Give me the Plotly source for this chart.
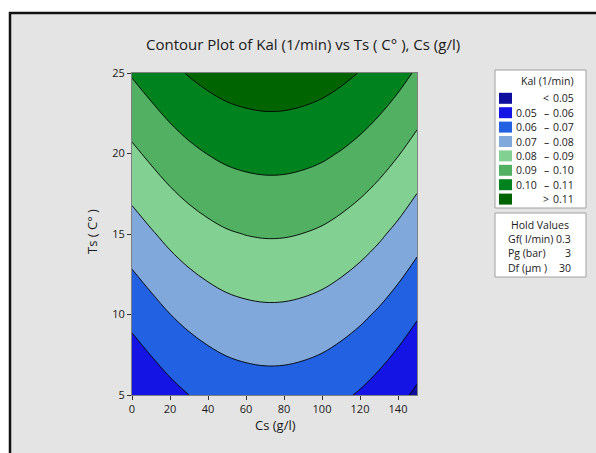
import plotly.graph_objects as go

# ---- data ----
cs_values = [0, 10, 20, 30, 40, 50, 60, 70, 80, 90, 100, 110, 120, 130, 140, 150]
ts_values = [5, 10, 15, 20, 25]
kal_ts5 = [0.0502, 0.0538, 0.0572, 0.0600, 0.0622, 0.0639, 0.0649, 0.0654, 0.0653, 0.0646, 0.0634, 0.0615, 0.0591, 0.0561, 0.0525, 0.0483]
kal_ts10 = [0.0629, 0.0665, 0.0699, 0.0727, 0.0749, 0.0766, 0.0776, 0.0781, 0.0780, 0.0773, 0.0761, 0.0742, 0.0718, 0.0688, 0.0652, 0.0610]
kal_ts15 = [0.0755, 0.0791, 0.0825, 0.0853, 0.0875, 0.0892, 0.0902, 0.0907, 0.0906, 0.0899, 0.0887, 0.0868, 0.0844, 0.0814, 0.0778, 0.0736]
kal_ts20 = [0.0882, 0.0918, 0.0952, 0.0980, 0.1002, 0.1019, 0.1029, 0.1034, 0.1033, 0.1026, 0.1014, 0.0995, 0.0971, 0.0941, 0.0905, 0.0863]
kal_ts25 = [0.1008, 0.1044, 0.1078, 0.1106, 0.1128, 0.1145, 0.1155, 0.1160, 0.1159, 0.1152, 0.1140, 0.1121, 0.1097, 0.1067, 0.1031, 0.0989]

level_start, level_end, level_size = 0.05, 0.11, 0.01
band_colors = ["#0E0E9E", "#1414E4", "#2262E2", "#80A8DA", "#82D092", "#52B062", "#00821E", "#006400"]
band_labels = [("", "<", "0.05"), ("0.05", "–", "0.06"), ("0.06", "–", "0.07"), ("0.07", "–", "0.08"),
               ("0.08", "–", "0.09"), ("0.09", "–", "0.10"), ("0.10", "–", "0.11"), ("", ">", "0.11")]
hold_names = ["Gf( l/min)", "Pg (bar)", "Df (µm )"]
hold_vals = ["0.3", "3", "30"]
x_ticks = [0, 20, 40, 60, 80, 100, 120, 140]
y_ticks = [5, 10, 15, 20, 25]

title_text = "Contour Plot of Kal (1/min) vs Ts ( C° ), Cs (g/l)"
x_title = "Cs (g/l)"
y_title = "Ts ( C° )"

# ---- layout geometry ----
W, H = 596, 453
L, R, T, B = 132, 179, 73, 58
PW, PH = W - L - R, H - T - B


def px(x):
    return (x - L) / PW


def py(y):
    return (H - B - y) / PH


FONT = "Open Sans, Noto Sans, sans-serif"

# stepped colorscale; contour fill evaluates at i/(n-1)
n = len(band_colors)
cscale = []
for i, c in enumerate(band_colors):
    lo = 0 if i == 0 else (i - 0.5) / (n - 1)
    hi = 1 if i == n - 1 else (i + 0.5) / (n - 1)
    cscale.append([lo, c])
    cscale.append([hi, c])

fig = go.Figure()
fig.add_trace(go.Contour(
    x=cs_values, y=ts_values,
    z=[kal_ts5, kal_ts10, kal_ts15, kal_ts20, kal_ts25],
    contours=dict(start=level_start, end=level_end, size=level_size, coloring="fill"),
    autocontour=False,
    colorscale=cscale, showscale=False,
    line=dict(color="black", width=0.9, smoothing=1.0),
    hoverinfo="skip",
))

shapes = []
annotations = []

# outer frame
shapes.append(dict(type="rect", xref="paper", yref="paper", layer="below",
                   x0=px(10), x1=px(W + 20), y0=py(H + 20), y1=py(13),
                   fillcolor="#E4E4E4", line=dict(color="#111111", width=2.5)))

# legend box 1
shapes.append(dict(type="rect", xref="paper", yref="paper",
                   x0=px(495), x1=px(586), y0=py(208), y1=py(70),
                   fillcolor="white", line=dict(color="#A0A0A0", width=1)))
annotations.append(dict(xref="paper", yref="paper", x=px(547), y=py(81), text="Kal (1/min)",
                        showarrow=False, font=dict(size=10.5, color="#1a1a1a", family=FONT),
                        xanchor="center", yanchor="middle"))
row_y0, row_dy = 98.3, 14.4
for i, (c, (lo, sep, hi)) in enumerate(zip(band_colors, band_labels)):
    yc = row_y0 + i * row_dy
    shapes.append(dict(type="rect", xref="paper", yref="paper",
                       x0=px(499), x1=px(512), y0=py(yc + 5.5), y1=py(yc - 5.5),
                       fillcolor=c, line=dict(width=0)))
    if lo:
        annotations.append(dict(xref="paper", yref="paper", x=px(539), y=py(yc), text=lo,
                                showarrow=False, font=dict(size=10.5, color="#1a1a1a", family=FONT),
                                xanchor="right", yanchor="middle"))
    annotations.append(dict(xref="paper", yref="paper", x=px(546), y=py(yc), text=sep,
                            showarrow=False, font=dict(size=10.5, color="#1a1a1a", family=FONT),
                            xanchor="center", yanchor="middle"))
    annotations.append(dict(xref="paper", yref="paper", x=px(576), y=py(yc), text=hi,
                            showarrow=False, font=dict(size=10.5, color="#1a1a1a", family=FONT),
                            xanchor="right", yanchor="middle"))

# legend box 2 (hold values)
shapes.append(dict(type="rect", xref="paper", yref="paper",
                   x0=px(495), x1=px(586), y0=py(277), y1=py(213),
                   fillcolor="white", line=dict(color="#A0A0A0", width=1)))
annotations.append(dict(xref="paper", yref="paper", x=px(540), y=py(225), text="Hold Values",
                        showarrow=False, font=dict(size=10.5, color="#1a1a1a", family=FONT),
                        xanchor="center", yanchor="middle"))
for i, (nm, v) in enumerate(zip(hold_names, hold_vals)):
    yc = 239 + i * 14.5
    annotations.append(dict(xref="paper", yref="paper", x=px(506), y=py(yc), text=nm,
                            showarrow=False, font=dict(size=10.5, color="#1a1a1a", family=FONT),
                            xanchor="left", yanchor="middle"))
    annotations.append(dict(xref="paper", yref="paper", x=px(573), y=py(yc), text=v,
                            showarrow=False, font=dict(size=10.5, color="#1a1a1a", family=FONT),
                            xanchor="right", yanchor="middle"))

# titles
annotations.append(dict(xref="paper", yref="paper", x=px(303), y=py(44), text=title_text,
                        showarrow=False, font=dict(size=15, color="#1a1a1a", family=FONT),
                        xanchor="center", yanchor="middle"))
annotations.append(dict(xref="paper", yref="paper", x=px(275), y=py(425), text=x_title,
                        showarrow=False, font=dict(size=13, color="#1a1a1a", family=FONT),
                        xanchor="center", yanchor="middle"))
annotations.append(dict(xref="paper", yref="paper", x=px(92), y=py(232), text=y_title,
                        showarrow=False, textangle=-90, font=dict(size=13, color="#1a1a1a", family=FONT),
                        xanchor="center", yanchor="middle"))

fig.update_layout(
    width=W, height=H,
    margin=dict(l=L, r=R, t=T, b=B, pad=0),
    paper_bgcolor="white", plot_bgcolor="#E4E4E4",
    font=dict(family=FONT, size=11, color="#1a1a1a"),
    shapes=shapes, annotations=annotations,
    showlegend=False,
    xaxis=dict(range=[0, 150], tickvals=x_ticks, ticks="outside", ticklen=4, tickcolor="#333",
               showgrid=False, zeroline=False, showline=True, linecolor="#808080", mirror=True,
               tickfont=dict(size=11)),
    yaxis=dict(range=[5, 25], tickvals=y_ticks, ticks="outside", ticklen=4, tickcolor="#333",
               showgrid=False, zeroline=False, showline=True, linecolor="#808080", mirror=True,
               tickfont=dict(size=11)),
)

fig.write_html("out.html")
